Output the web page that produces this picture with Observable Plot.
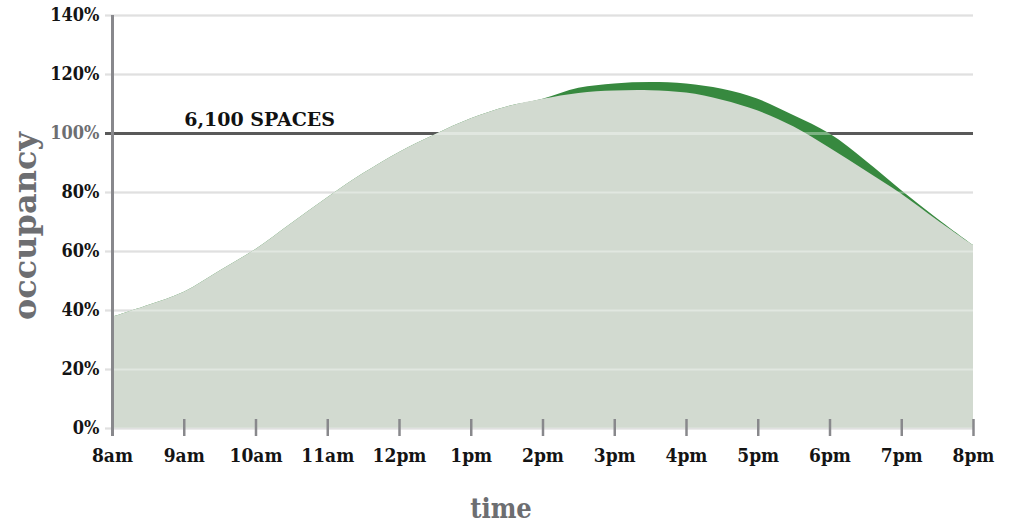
<!DOCTYPE html>
<html>
<head>
<meta charset="utf-8">
<script src="https://cdn.jsdelivr.net/npm/d3@7"></script>
<script src="https://cdn.jsdelivr.net/npm/@observablehq/plot@0.6"></script>
<style>
  body { margin: 0; background: #fff; }
  #chart text { font-weight: 700; }
</style>
</head>
<body>
<div id="chart"></div>
<script>
// ---- data ----
const hours = [8, 8.5, 9, 9.5, 10, 10.5, 11, 11.5, 12, 12.5, 13, 13.5, 14, 14.5, 15, 15.5, 16, 16.5, 17, 17.5, 18, 18.5, 19, 19.5, 20];
const baseOccupancy = [37.7, 41.7, 46.2, 53.4, 60.7, 69.5, 78.2, 86.4, 93.6, 99.6, 105.0, 109.0, 111.6, 113.6, 114.4, 114.5, 113.7, 111.3, 107.6, 102.2, 95.0, 87.3, 79.4, 70.5, 62.0];
const peakOccupancy = [37.7, 41.7, 46.2, 53.4, 60.7, 69.5, 78.2, 86.4, 93.6, 99.6, 105.0, 109.0, 111.6, 115.3, 116.8, 117.3, 116.8, 115.0, 111.6, 106.0, 99.8, 90.7, 80.6, 71.0, 62.0];
const hourTicks = [8, 9, 10, 11, 12, 13, 14, 15, 16, 17, 18, 19, 20];
const hourLabels = ["8am", "9am", "10am", "11am", "12pm", "1pm", "2pm", "3pm", "4pm", "5pm", "6pm", "7pm", "8pm"];
const yTicks = [0, 20, 40, 60, 80, 100, 120, 140];
const capacity = 100;
const capacityLabel = "6,100 SPACES";
const capacityLabelHour = 9;
const xTitle = "time";
const yTitle = "occupancy";

const rows = hours.map((h, i) => ({hour: h, base: baseOccupancy[i], peak: peakOccupancy[i]}));
const serif = "'DejaVu Serif', serif";
const serifCond = "'DejaVu Serif Condensed', 'DejaVu Serif', serif";
const otherTicks = yTicks.filter(d => d !== capacity);

const chart = Plot.plot({
  width: 1009,
  height: 525,
  marginLeft: 112,
  marginRight: 36,
  marginTop: 15,
  marginBottom: 97,
  x: {domain: [hourTicks[0], hourTicks[hourTicks.length - 1]], label: null},
  y: {domain: [yTicks[0], yTicks[yTicks.length - 1]], label: null},
  style: {fontFamily: serif, background: "#fff", overflow: "visible"},
  marks: [
    Plot.gridY(yTicks, {stroke: "#d0d0d0", strokeOpacity: 1, strokeWidth: 2}),
    Plot.axisY(yTicks, {tickSize: 7, stroke: "#d0d0d0", strokeWidth: 2, tickFormat: () => "", label: null}),
    Plot.ruleY([capacity], {stroke: "#000", strokeWidth: 3, insetLeft: -7}),
    Plot.areaY(rows, {x: "hour", y: "peak", fill: "#37893f", curve: "catmull-rom"}),
    Plot.areaY(rows, {x: "hour", y: "base", fill: "#d2dad0", curve: "catmull-rom"}),
    Plot.gridY(otherTicks, {stroke: "#fff", strokeOpacity: 0.35, strokeWidth: 2, insetLeft: -7}),
    Plot.gridY([capacity], {stroke: "#fff", strokeOpacity: 0.35, strokeWidth: 3, insetLeft: -7}),
    Plot.axisY(otherTicks, {tickSize: 0, tickPadding: 13, tickFormat: d => d + "%", fill: "#141414", fontSize: 18, fontFamily: serifCond, label: null}),
    Plot.axisY([capacity], {tickSize: 0, tickPadding: 13, tickFormat: d => d + "%", fill: "#6d6e71", fontSize: 18, fontFamily: serifCond, label: null}),
    Plot.axisX(hourTicks, {tickSize: 17, dy: -9, stroke: "#88888c", strokeWidth: 2.5, tickFormat: () => "", label: null}),
    Plot.axisX(hourTicks, {tickSize: 0, tickPadding: 20, tickFormat: d => hourLabels[hourTicks.indexOf(d)], fill: "#141414", fontSize: 19, fontFamily: serifCond, label: null}),
    Plot.ruleX([hourTicks[0]], {stroke: "#88888c", strokeWidth: 3, insetBottom: -8}),
    Plot.text([capacityLabel], {x: capacityLabelHour, y: capacity, text: d => d, textAnchor: "start", dy: -14, fontSize: 19, fill: "#111", fontFamily: serif}),
    Plot.text([xTitle], {frameAnchor: "bottom", text: d => d, textAnchor: "middle", dx: -42, dy: 89, fontSize: 27, fill: "#6d6e71", fontFamily: serifCond}),
    Plot.text([yTitle], {frameAnchor: "left", rotate: -90, text: d => d, textAnchor: "middle", dx: -87, dy: 4, fontSize: 32, fill: "#6d6e71", fontFamily: serif})
  ]
});
document.getElementById("chart").append(chart);
</script>
</body>
</html>
